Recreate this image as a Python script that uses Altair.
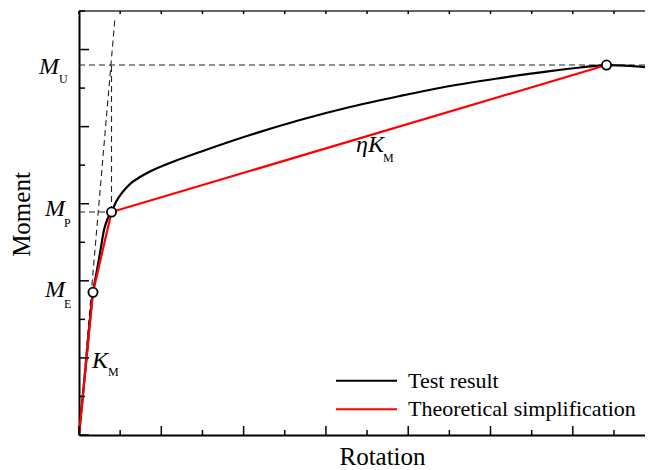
import altair as alt
import pandas as pd

SERIF = "Liberation Serif"

# ---- data (arbitrary units: 1 unit = one major tick) ----
test_x = [0.0, 0.085, 0.170, 0.219, 0.261, 0.304, 0.346, 0.395, 0.449, 0.535, 0.632,
          0.741, 0.863, 1.166, 1.470, 2.078, 2.685, 3.293, 3.900, 4.508, 5.115, 5.723,
          6.087, 6.409, 6.695, 6.877]
test_y = [0.0, 0.93, 1.851, 2.140, 2.399, 2.659, 2.802, 2.892, 3.022, 3.158, 3.268,
          3.346, 3.418, 3.554, 3.671, 3.891, 4.086, 4.254, 4.397, 4.527, 4.630, 4.721,
          4.767, 4.799, 4.789, 4.773]

theory_x = [0.0, 0.170, 0.395, 6.409]
theory_y = [0.0, 1.851, 2.892, 4.799]

key_x = [0.170, 0.395, 6.409]
key_y = [1.851, 2.892, 4.799]

M_E, M_P, M_U = 1.851, 2.892, 4.799
theta_P = 0.395

X_MAX = 6.877
Y_MAX = 5.5

# dashed construction lines (x, y, x2, y2)
dash_x = [0.0, 0.0, theta_P, 0.0]
dash_y = [M_U, M_P, M_P, 0.0]
dash_x2 = [X_MAX, theta_P, theta_P, 0.437]
dash_y2 = [M_U, M_P, M_U, 5.41]

x_major = [0, 1, 2, 3, 4, 5, 6]
x_minor = [0.5, 1.5, 2.5, 3.5, 4.5, 5.5, 6.5]
y_major = [0, 1, 2, 3, 4, 5]
y_minor = [0.5, 1.5, 2.5, 3.5, 4.5, 5.5]

legend_names = ["Test result", "Theoretical simplification"]
legend_colors = ["black", "red"]

W, H = 566, 424

xs = alt.Scale(domain=[0, X_MAX], nice=False, zero=False)
ys = alt.Scale(domain=[0, Y_MAX], nice=False, zero=False)


def X(f):
    return alt.X(f, type="quantitative", scale=xs, title="Rotation")


def Y(f):
    return alt.Y(f, type="quantitative", scale=ys, title="Moment")


test_df = pd.DataFrame({"x": test_x, "y": test_y})
theory_df = pd.DataFrame({"x": theory_x, "y": theory_y})
key_df = pd.DataFrame({"x": key_x, "y": key_y})
dash_df = pd.DataFrame({"x": dash_x, "y": dash_y, "x2": dash_x2, "y2": dash_y2})

dashed = alt.Chart(dash_df).mark_rule(color="#222", strokeWidth=1.1, strokeDash=[6, 4]).encode(
    x=X("x"), y=Y("y"), x2="x2", y2="y2")

test_line = alt.Chart(test_df).mark_line(color="black", strokeWidth=2.2,
                                         interpolate="monotone").encode(x=X("x"), y=Y("y"))
theory_line = alt.Chart(theory_df).mark_line(color="red", strokeWidth=2.2).encode(
    x=X("x"), y=Y("y"))
points = alt.Chart(key_df).mark_circle(size=85, fill="white", stroke="black",
                                       strokeWidth=1.8, opacity=1).encode(x=X("x"), y=Y("y"))


# inward ticks
def xticks(vals, y0, y1):
    return alt.Chart(pd.DataFrame({"v": vals})).mark_rule(color="black", strokeWidth=1.5).encode(
        x=X("v"), y=alt.value(y0), y2=alt.value(y1))


def yticks(vals, length):
    return alt.Chart(pd.DataFrame({"v": vals})).mark_rule(color="black", strokeWidth=1.5).encode(
        y=Y("v"), x=alt.value(0), x2=alt.value(length))


ticks = [
    xticks(x_major, H, H - 9),
    xticks(x_minor, H, H - 5),
    xticks(x_major + x_minor, 0, 3),
    yticks(y_major, 10),
    yticks(y_minor, 6),
]

one = pd.DataFrame({"a": [0]})
top_line = alt.Chart(one).mark_rule(color="#333", strokeWidth=1.5).encode(
    x=alt.value(0), x2=alt.value(W), y=alt.value(0))


# M labels
def mlabel(yval, sub, mx, sx, dym, dys):
    d = pd.DataFrame({"y": [yval]})
    main = alt.Chart(d).mark_text(text="M", font=SERIF, fontStyle="italic", fontSize=24,
                                  align="right", baseline="alphabetic", dy=dym).encode(
        x=alt.value(mx), y=Y("y"))
    s = alt.Chart(d).mark_text(text=sub, font=SERIF, fontSize=12, align="left",
                               baseline="alphabetic", dy=dys).encode(x=alt.value(sx), y=Y("y"))
    return [main, s]


labels = (mlabel(M_U, "U", -20, -20, 9, 18)
          + mlabel(M_P, "P", -14, -15, 4, 15)
          + mlabel(M_E, "E", -14, -15, 5, 16))

km = alt.Chart(one).mark_text(text="K", font=SERIF, fontStyle="italic", fontSize=24,
                              align="left", baseline="alphabetic").encode(
    x=alt.value(13), y=alt.value(357))
km_s = alt.Chart(one).mark_text(text="M", font=SERIF, fontSize=12, align="left",
                                baseline="alphabetic").encode(x=alt.value(29), y=alt.value(365))
ekm = alt.Chart(one).mark_text(text="ηK", font=SERIF, fontStyle="italic", fontSize=24,
                               align="left", baseline="alphabetic").encode(
    x=alt.value(277), y=alt.value(141))
ekm_s = alt.Chart(one).mark_text(text="M", font=SERIF, fontSize=12, align="left",
                                 baseline="alphabetic").encode(x=alt.value(304), y=alt.value(151))

# legend (manual)
leg_lines = []
leg_texts = []
for i, (n, c) in enumerate(zip(legend_names, legend_colors)):
    yl = 369.7 + i * 28.6
    leg_lines.append(alt.Chart(one).mark_rule(color=c, strokeWidth=2).encode(
        x=alt.value(257), x2=alt.value(318), y=alt.value(yl)))
    leg_texts.append(alt.Chart(one).mark_text(text=n, font=SERIF, fontSize=22, align="left",
                                              baseline="middle", color="black").encode(
        x=alt.value(329), y=alt.value(yl)))

chart = alt.layer(
    dashed, test_line, theory_line, points, top_line, *ticks, *labels,
    km, km_s, ekm, ekm_s, *leg_lines, *leg_texts
).properties(
    width=W, height=H,
    autosize=alt.AutoSizeParams(type="none"),
    padding={"left": 71, "top": 3, "right": 0, "bottom": 35},
).configure_view(stroke=None).configure_axis(
    domain=True, domainColor="black", domainWidth=2, ticks=False, labels=False, grid=False,
    titleFont=SERIF, titleFontSize=25, titleFontWeight="normal", titleColor="black",
).configure_axisX(
    titleX=303, titleY=29, titleAlign="center", titleBaseline="alphabetic",
).configure_axisY(
    titleX=-50, titleY=203, titleAlign="center", titleBaseline="alphabetic", titleAngle=270,
)

chart.save("out.html", embed_options={"renderer": "svg", "actions": False})
